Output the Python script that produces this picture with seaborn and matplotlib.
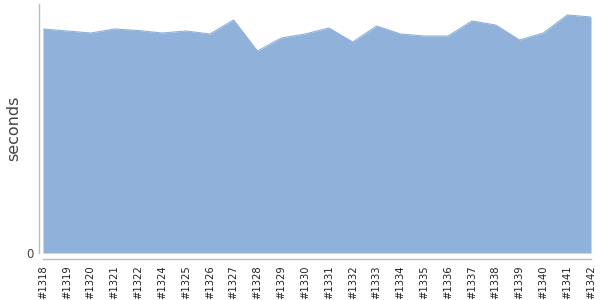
import matplotlib
matplotlib.use("Agg")
import matplotlib.pyplot as plt
import seaborn as sns
import pandas as pd
import numpy as np

builds = ["#1318", "#1319", "#1320", "#1321", "#1322", "#1324", "#1325", "#1326",
          "#1327", "#1328", "#1329", "#1330", "#1331", "#1332", "#1333", "#1334",
          "#1335", "#1336", "#1337", "#1338", "#1339", "#1340", "#1341", "#1342"]
seconds = [224, 222, 220, 224, 222.5, 220, 222, 219, 233, 202, 215, 219, 225, 211,
           227, 219, 217, 217, 232, 228, 213, 220, 238, 236]
y_max = 249

sns.set_style("white")
plt.rcParams['font.family'] = ['DejaVu Sans']

df = pd.DataFrame({"build": builds, "seconds": seconds})
df["pos"] = np.arange(len(df))

fig = plt.figure(figsize=(6, 3), dpi=100)
ax = fig.add_axes([43/600, 47/300, 548/600, 249/300])

color = "#8fb1da"
ax.fill_between(df["pos"], 0, df["seconds"], color=color, linewidth=0)
sns.lineplot(data=df, x="pos", y="seconds", ax=ax, color=color, linewidth=0.8)

ax.set_xlim(0, len(df) - 1)
ax.set_ylim(0, y_max)
ax.set_xticks(df["pos"])
ax.set_xticklabels(df["build"])
ax.set_yticks([0])
ax.set_yticklabels(["0"])
ax.set_xlabel("")
ax.set_ylabel("seconds", fontsize=11.5, color="#444444")
ax.yaxis.set_label_coords(-22/548, 0.5)

for s in ["top", "right"]:
    ax.spines[s].set_visible(False)
ax.spines["left"].set_position(("outward", 3))
ax.spines["bottom"].set_position(("outward", 4))
ax.spines["left"].set_color("#bbbbbb")
ax.spines["bottom"].set_color("#bbbbbb")
ax.spines["left"].set_linewidth(1)
ax.spines["bottom"].set_linewidth(1)
ax.tick_params(axis="x", direction="in", length=3, color="#bbbbbb", pad=5,
               labelrotation=90, labelsize=7.2, labelcolor="#222222")
ax.tick_params(axis="y", direction="out", length=2, color="#bbbbbb", pad=2,
               labelsize=8.5, labelcolor="#444444")

fig.savefig("out.png", dpi=100)
